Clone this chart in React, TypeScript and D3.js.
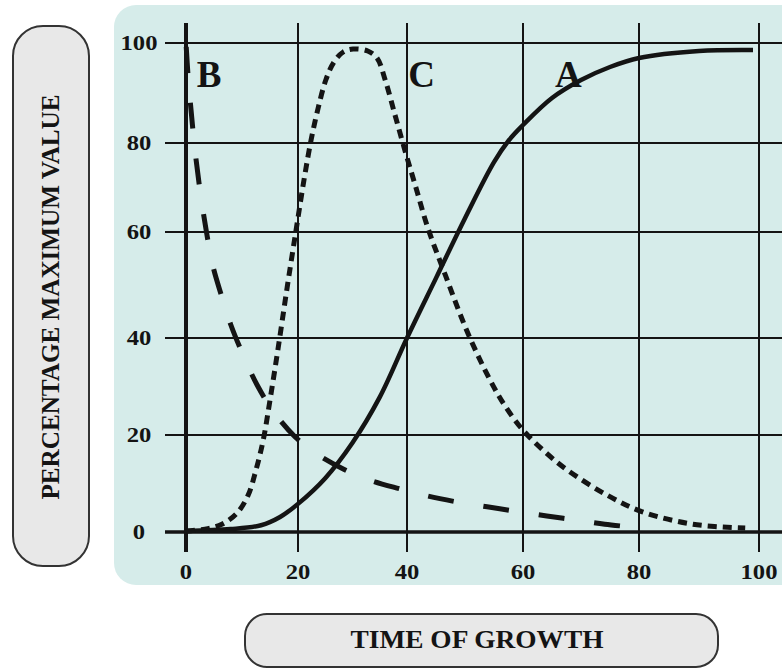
import { useMemo } from "react";
import * as d3 from "d3";

type Pt = [number, number];

const ticks = [0, 20, 40, 60, 80, 100];
const tickLabels = ["0", "20", "40", "60", "80", "100"];

// curve A: solid, sigmoid growth
const seriesA: Pt[] = [
  [0, 0.2], [8, 0.6], [13.4, 1.4], [16.8, 3.1], [20, 5.8], [25, 11.1], [30, 18.4],
  [35, 27.8], [40, 40], [45, 51.3], [50, 63.1], [55, 75.7], [57.6, 80.6], [60, 83.6],
  [65, 89], [70, 92.6], [75, 95.2], [80, 97], [90, 98.4], [99, 98.6],
];

// curve B: long dashes, rapid fall
const seriesB: Pt[] = [
  [0, 100], [0.36, 93.6], [0.9, 86.6], [1.6, 78.4], [2.5, 69.4], [3.6, 60.4],
  [4.8, 53.6], [6.3, 48.1], [8, 42.5], [10.2, 36.5], [12.7, 30.3], [15.7, 24.7],
  [19.5, 19.6], [23.7, 15.9], [28.3, 13], [33.2, 10.7], [38.7, 8.9], [43.6, 7.4],
  [48.6, 6.2], [53.8, 5.2], [58.6, 4.3], [64.1, 3.3], [69, 2.5], [74.1, 1.6], [79, 1],
];

// curve C: short dashes, rise and fall
const seriesC: Pt[] = [
  [0, 0.2], [3.4, 0.6], [6.4, 1.6], [9.1, 3.9], [11.1, 7.6], [12.5, 12.8],
  [13.8, 19], [15, 27.2], [16.4, 37.5], [18, 49.1], [19.6, 60], [21.1, 71.7],
  [22.4, 80.6], [23.7, 87], [25.1, 92.6], [26.6, 96.2], [28.3, 98.2], [30.1, 98.8],
  [32.8, 98.4], [34.5, 97], [36, 92.6], [37.8, 85.6], [39.6, 78.4], [41.4, 70.6],
  [43.6, 60.9], [46.6, 51.9], [50.5, 40.9], [54.3, 31.4], [56.9, 26], [60, 21],
  [63.8, 16.5], [67.6, 12.8], [74.5, 7.6], [80.7, 4.1], [89, 1.6], [97.7, 0.8],
];

const curveLabels = [
  { name: "B", x: 1.9, y: 95 },
  { name: "C", x: 40.2, y: 95 },
  { name: "A", x: 65.5, y: 95 },
];

const FONT = "'Liberation Serif', 'Times New Roman', serif";
const INK = "#141414";

export default function App() {
  const width = 782;
  const height = 668;

  // the printed grid is slightly uneven, so each gridline gets its own position
  const x = d3.scaleLinear().domain(ticks).range([186, 298, 407, 523, 639, 759]);
  const y = d3.scaleLinear().domain(ticks).range([532, 435, 338, 232, 143, 43]);

  const line = useMemo(
    () =>
      d3
        .line<Pt>()
        .x((d) => x(d[0]))
        .y((d) => y(d[1]))
        .curve(d3.curveCatmullRom.alpha(0.5)),
    []
  );

  const gridTop = 23;
  const gridBottom = 552;
  const gridLeft = 165;

  return (
    <svg
      width={width}
      height={height}
      style={{ position: "absolute", left: 0, top: 0, background: "#fff" }}
    >
      {/* plot panel */}
      <rect x={114} y={5} width={720} height={580} rx={22} fill="#d6ecea" />

      {/* horizontal grid */}
      {ticks.map((t) => (
        <line
          key={"h" + t}
          x1={gridLeft}
          x2={width}
          y1={y(t)}
          y2={y(t)}
          stroke={INK}
          strokeWidth={t === 0 ? 3.5 : 2}
        />
      ))}
      {/* vertical grid */}
      {ticks.map((t) => (
        <line
          key={"v" + t}
          x1={x(t)}
          x2={x(t)}
          y1={gridTop}
          y2={gridBottom}
          stroke={INK}
          strokeWidth={t === 0 ? 4 : 2}
        />
      ))}

      {/* y tick labels */}
      {ticks.map((t, i) => (
        <text
          key={"yl" + t}
          x={139}
          y={y(t)}
          dy="0.35em"
          textAnchor="middle"
          fontFamily={FONT}
          fontWeight="bold"
          fontSize={20}
          fill={INK}
          textLength={tickLabels[i].length * 12.3}
          lengthAdjust="spacingAndGlyphs"
        >
          {tickLabels[i]}
        </text>
      ))}
      {/* x tick labels */}
      {ticks.map((t, i) => (
        <text
          key={"xl" + t}
          x={x(t)}
          y={579}
          textAnchor="middle"
          fontFamily={FONT}
          fontWeight="bold"
          fontSize={20}
          fill={INK}
          textLength={tickLabels[i].length * 12.3}
          lengthAdjust="spacingAndGlyphs"
        >
          {tickLabels[i]}
        </text>
      ))}

      {/* curves */}
      <path
        d={line(seriesA) || ""}
        fill="none"
        stroke={INK}
        strokeWidth={4.5}
      />
      <path
        d={line(seriesB) || ""}
        fill="none"
        stroke={INK}
        strokeWidth={5}
        strokeDasharray="26 30"
        strokeDashoffset={52}
      />
      <path
        d={line(seriesC) || ""}
        fill="none"
        stroke={INK}
        strokeWidth={5}
        strokeDasharray="9 6"
      />

      {/* curve labels */}
      {curveLabels.map((c) => (
        <text
          key={c.name}
          x={x(c.x)}
          y={y(c.y)}
          dy="0.5em"
          fontFamily={FONT}
          fontWeight="bold"
          fontSize={37}
          fill={INK}
        >
          {c.name}
        </text>
      ))}

      {/* axis title boxes */}
      <rect x={13} y={26} width={76} height={540} rx={30} fill="#e8e8e8" stroke="#333" strokeWidth={2} />
      <text
        transform="translate(59,297) rotate(-90)"
        textAnchor="middle"
        fontFamily={FONT}
        fontWeight="bold"
        fontSize={25}
        fill={INK}
        textLength={405}
        lengthAdjust="spacingAndGlyphs"
      >
        PERCENTAGE MAXIMUM VALUE
      </text>

      <rect x={245} y={614} width={473} height={53} rx={22} fill="#e8e8e8" stroke="#333" strokeWidth={2} />
      <text
        x={477}
        y={648}
        textAnchor="middle"
        fontFamily={FONT}
        fontWeight="bold"
        fontSize={25}
        fill={INK}
        textLength={253}
        lengthAdjust="spacingAndGlyphs"
      >
        TIME OF GROWTH
      </text>
    </svg>
  );
}
